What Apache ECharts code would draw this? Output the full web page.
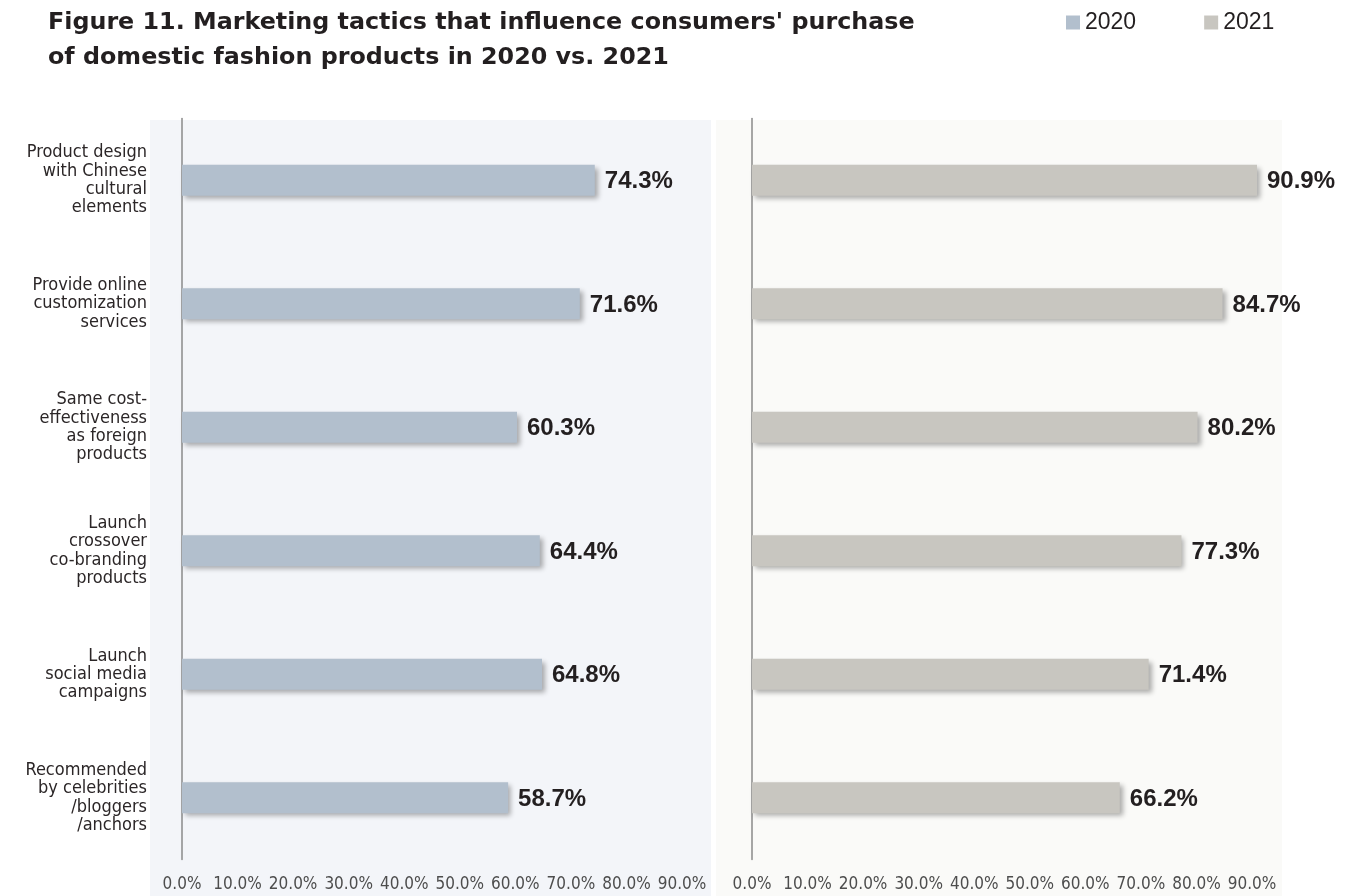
<!DOCTYPE html>
<html>
<head>
<meta charset="utf-8">
<title>Marketing tactics 2020 vs 2021</title>
<script src="https://cdn.jsdelivr.net/npm/echarts@6/dist/echarts.min.js"></script>
<style>
  html, body { margin: 0; padding: 0; background: #ffffff; }
  #chart { width: 1366px; height: 896px; }
</style>
</head>
<body>
<div id="chart"></div>
<script>
// Tactics (top to bottom) and the share of consumers influenced by each
const categories = [
  'Product design\nwith Chinese\ncultural\nelements',
  'Provide online\ncustomization\nservices',
  'Same cost-\neffectiveness\nas foreign\nproducts',
  'Launch\ncrossover\nco-branding\nproducts',
  'Launch\nsocial media\ncampaigns',
  'Recommended\nby celebrities\n/bloggers\n/anchors'
];
const values2020 = [74.3, 71.6, 60.3, 64.4, 64.8, 58.7];
const values2021 = [90.9, 84.7, 80.2, 77.3, 71.4, 66.2];
const seriesNames = ['2020', '2021'];
const axisMin = 0;
const axisMax = 90;
const axisStep = 10;

const condensed = '"DejaVu Sans Condensed", "Liberation Sans", sans-serif';
const sans = '"Liberation Sans", Arial, Helvetica, sans-serif';
const titleFont = '"DejaVu Sans", "Liberation Sans", Arial, sans-serif';
const colors = ['#b2bfcd', '#c8c6c0'];

const chart = echarts.init(document.getElementById('chart'));

function xAxisFor(gridIndex) {
  return {
    type: 'value', gridIndex: gridIndex,
    min: axisMin, max: axisMax, interval: axisStep,
    axisLine: { show: false }, axisTick: { show: false }, splitLine: { show: false },
    axisLabel: {
      margin: 17, color: '#4d4d4d', fontFamily: condensed, fontSize: 17,
      showMinLabel: true, showMaxLabel: true, hideOverlap: false,
      formatter: v => v.toFixed(1) + '%'
    }
  };
}

function yAxisFor(gridIndex, showLabels) {
  return {
    type: 'category', gridIndex: gridIndex, data: categories, inverse: true,
    axisLine: { show: true, lineStyle: { color: '#8a8a8a', width: 1.5 } },
    axisTick: { show: false },
    axisLabel: {
      show: showLabels, margin: 35, color: '#2b2627', fontFamily: condensed,
      fontSize: 18, lineHeight: 18.3, align: 'right'
    }
  };
}

function barSeries(name, values, idx) {
  return {
    name: name, type: 'bar', xAxisIndex: idx, yAxisIndex: idx,
    data: values, barWidth: 31, clip: false,
    itemStyle: {
      color: colors[idx],
      shadowColor: 'rgba(0,0,0,0.32)', shadowBlur: 5,
      shadowOffsetX: 3, shadowOffsetY: 3
    },
    label: {
      show: true, position: 'right', distance: 10, offset: [0, 1.5],
      color: '#231f20', fontFamily: sans, fontWeight: 'bold', fontSize: 24,
      formatter: p => p.value.toFixed(1) + '%'
    }
  };
}

chart.setOption({
  backgroundColor: '#ffffff',
  animation: false,
  color: colors,
  title: {
    text: "Figure 11. Marketing tactics that influence consumers' purchase\nof domestic fashion products in 2020 vs. 2021",
    left: 48, top: 5, padding: 0,
    textStyle: { fontFamily: titleFont, fontWeight: 'bold', fontSize: 23.8, lineHeight: 35, color: '#231f20' }
  },
  legend: {
    data: seriesNames, left: 1061, top: 6,
    itemWidth: 14, itemHeight: 14, itemGap: 68, icon: 'rect',
    textStyle: { fontFamily: sans, fontSize: 23, color: '#231f20', lineHeight: 23 }
  },
  graphic: [
    { type: 'rect', z: -10, shape: { x: 150, y: 120, width: 561, height: 776 }, style: { fill: '#f3f5f9' } },
    { type: 'rect', z: -10, shape: { x: 716, y: 120, width: 566, height: 776 }, style: { fill: '#fafaf8' } }
  ],
  grid: [
    { left: 182, top: 118.5, width: 500, height: 741 },
    { left: 752, top: 118.5, width: 500, height: 741 }
  ],
  xAxis: [xAxisFor(0), xAxisFor(1)],
  yAxis: [yAxisFor(0, true), yAxisFor(1, false)],
  series: [
    barSeries(seriesNames[0], values2020, 0),
    barSeries(seriesNames[1], values2021, 1)
  ]
});
</script>
</body>
</html>
